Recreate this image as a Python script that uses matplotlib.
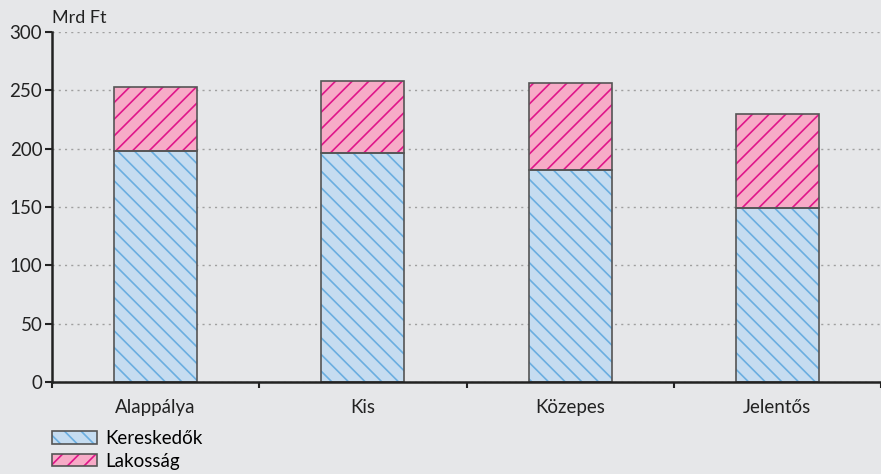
import matplotlib
matplotlib.use('Agg')
import matplotlib.pyplot as plt
from matplotlib.legend_handler import HandlerTuple
import numpy as np

plt.rcParams['font.family'] = ['Lato', 'DejaVu Sans']
plt.rcParams['hatch.linewidth'] = 1.2

categories = ['Alappálya', 'Kis', 'Közepes', 'Jelentős']
kereskedok = [198, 196, 182, 149]
lakossag = [55, 62, 74, 81]

bg = '#e6e7e9'
blueFace = '#c5dcf0'
blueHatch = '#6aaee0'
pinkFace = '#f7abc7'
pinkHatch = '#e0168a'
edge = '#555555'
ink = '#222222'

fig = plt.figure(figsize=(8.81, 4.74), dpi=100, facecolor=bg)
# left,bottom,width,height
panel = plt.axes([52/881, 1-382/474, 829/881, 350/474], facecolor=bg)

x = np.arange(len(categories))
width = 0.4

# hatched fills first, then outlines on top
panel.bar(x, kereskedok, width, color=blueFace, edgecolor=blueHatch,
          hatch='\\\\', linewidth=0, zorder=2)
panel.bar(x, lakossag, width, bottom=kereskedok, color=pinkFace,
          edgecolor=pinkHatch, hatch='//', linewidth=0, zorder=2)
panel.bar(x, kereskedok, width, fill=False, edgecolor=edge, linewidth=1.2, zorder=3)
panel.bar(x, lakossag, width, bottom=kereskedok, fill=False, edgecolor=edge,
          linewidth=1.2, zorder=3)

panel.set_xlim(-0.5, len(categories) - 0.5)
panel.set_ylim(0, 300)
panel.set_yticks(np.arange(0, 301, 50))
panel.yaxis.grid(True, linestyle=(0, (1.5, 3)), color='#a0a0a0', linewidth=1.0, zorder=1)
panel.set_axisbelow(True)

panel.set_xticks(x)
panel.set_xticklabels(categories, fontsize=13.5, color=ink)
panel.set_xticks(np.arange(-0.5, len(categories), 1.0), minor=True)
panel.tick_params(axis='x', which='major', length=0, pad=12)
panel.tick_params(axis='x', which='minor', length=4, width=1.5, color=ink, direction='out')
panel.tick_params(axis='y', length=5, width=1.5, color=ink, labelsize=13.5,
                  labelcolor=ink, pad=2)

for side in ['top', 'right']:
    panel.spines[side].set_visible(False)
for side in ['left', 'bottom']:
    panel.spines[side].set_linewidth(1.8)
    panel.spines[side].set_color(ink)
    panel.spines[side].set_zorder(4)

fig.text(52/881, 1-18/474, 'Mrd Ft', fontsize=13, color=ink, va='center', ha='left')

h1 = plt.Rectangle((0, 0), 1, 1, facecolor=blueFace, edgecolor=blueHatch, hatch='\\\\', linewidth=0)
h2 = plt.Rectangle((0, 0), 1, 1, facecolor=pinkFace, edgecolor=pinkHatch, hatch='//', linewidth=0)
o1 = plt.Rectangle((0, 0), 1, 1, fill=False, edgecolor=edge, linewidth=1.2)
o2 = plt.Rectangle((0, 0), 1, 1, fill=False, edgecolor=edge, linewidth=1.2)
legend = fig.legend([(h1, o1), (h2, o2)], ['Kereskedők', 'Lakosság'], loc='upper left',
                    bbox_to_anchor=(52/881, 1-430/474), frameon=False, fontsize=13.5,
                    handlelength=2.4, handleheight=0.65, handletextpad=0.45,
                    labelspacing=0.3, borderaxespad=0, borderpad=0,
                    handler_map={tuple: HandlerTuple(ndivide=1)})

plt.savefig('out.png', dpi=100, facecolor=bg)
